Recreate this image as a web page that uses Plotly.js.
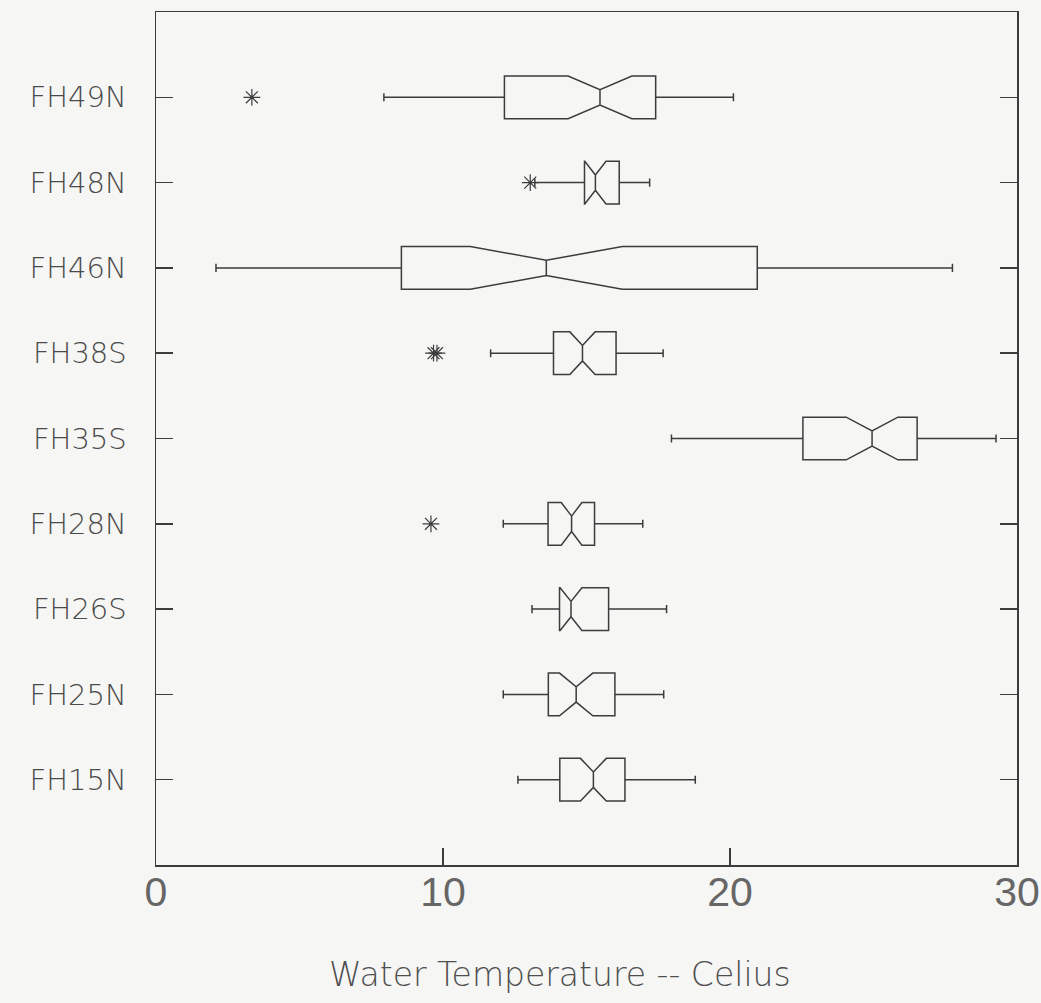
<!DOCTYPE html>
<html>
<head>
<meta charset="utf-8">
<script src="https://cdn.plot.ly/plotly-3.0.1.min.js"></script>
<style>
  html, body { margin: 0; padding: 0; background: #f6f6f5; }
  #chart { width: 1041px; height: 1003px; }
</style>
</head>
<body>
<div id="chart"></div>
<script>
// Water temperature (°C) summary per station: notched box plots
const stations   = ['FH49N', 'FH48N', 'FH46N', 'FH38S', 'FH35S', 'FH28N', 'FH26S', 'FH25N', 'FH15N'];
const lowerFence = [7.94, 13.20, 2.09, 11.66, 17.96, 12.10, 13.10, 12.10, 12.61];
const q1         = [12.14, 14.93, 8.55, 13.85, 22.54, 13.66, 14.06, 13.67, 14.07];
const median     = [15.47, 15.31, 13.60, 14.86, 24.95, 14.48, 14.46, 14.64, 15.24];
const q3         = [17.41, 16.14, 20.95, 16.03, 26.52, 15.28, 15.77, 15.99, 16.34];
const upperFence = [20.12, 17.20, 27.75, 17.67, 29.27, 16.96, 17.79, 17.69, 18.79];
const notchSpan  = [1.11, 0.37, 2.65, 0.44, 0.90, 0.36, 0.38, 0.58, 0.45];

// Outlying readings, drawn as asterisks
const outlierStation = ['FH49N', 'FH48N', 'FH38S', 'FH38S', 'FH28N'];
const outlierTemp    = [3.34, 13.04, 9.67, 9.79, 9.58];

const xTicks = [0, 10, 20, 30];
const xTitle = 'Water Temperature -- Celius';

const ink = '#3c3c3c';

const boxes = {
  type: 'box',
  orientation: 'h',
  y: stations,
  q1: q1,
  median: median,
  q3: q3,
  lowerfence: lowerFence,
  upperfence: upperFence,
  notchspan: notchSpan,
  notched: true,
  notchwidth: 0.32,
  width: 0.5,
  whiskerwidth: 0.19,
  boxpoints: false,
  fillcolor: 'rgba(0,0,0,0)',
  line: { color: ink, width: 1.5 },
  hoverinfo: 'skip'
};

const outliers = {
  type: 'scatter',
  mode: 'markers',
  x: outlierTemp,
  y: outlierStation,
  marker: { symbol: 'asterisk-open', size: 14, line: { color: ink, width: 1.2 }, color: ink },
  hoverinfo: 'skip'
};

const layout = {
  width: 1041,
  height: 1003,
  margin: { l: 156, r: 24, t: 12, b: 138 },
  paper_bgcolor: '#f6f6f5',
  plot_bgcolor: '#f6f6f5',
  showlegend: false,
  xaxis: {
    range: [0, 30],
    tickvals: xTicks,
    ticktext: xTicks.map(String),
    ticks: 'inside',
    ticklen: 17,
    tickwidth: 1.5,
    tickcolor: ink,
    showline: true,
    linecolor: ink,
    linewidth: 1.5,
    mirror: true,
    showgrid: false,
    zeroline: false,
    ticklabelstandoff: -10,
    tickfont: { family: 'Liberation Sans Narrow, Liberation Sans, sans-serif', size: 41, color: '#666666' }
  },
  yaxis: {
    type: 'category',
    categoryorder: 'array',
    categoryarray: stations.slice().reverse(),
    range: [-1, 9],
    ticks: 'inside',
    ticklen: 17,
    tickwidth: 1.5,
    tickcolor: ink,
    showline: true,
    linecolor: ink,
    linewidth: 1.5,
    mirror: 'ticks',
    showgrid: false,
    zeroline: false,
    ticklabelstandoff: 22,
    tickfont: { family: 'DejaVu Sans, sans-serif', size: 29, color: '#4a4a4a', weight: 300 }
  },
  annotations: [{
    text: xTitle,
    xref: 'paper', yref: 'paper',
    x: 0.469, y: -0.103,
    xanchor: 'center', yanchor: 'top',
    showarrow: false,
    font: { family: 'DejaVu Sans, sans-serif', size: 33, color: '#4f4f4f', weight: 300 }
  }]
};

Plotly.newPlot('chart', [boxes, outliers], layout, { staticPlot: true, displayModeBar: false });
</script>
</body>
</html>
